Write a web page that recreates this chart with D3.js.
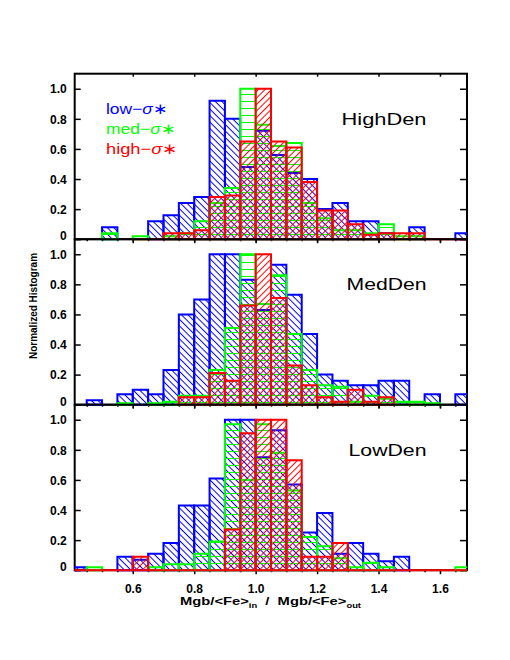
<!DOCTYPE html>
<html>
<head>
<meta charset="utf-8">
<script src="https://cdn.jsdelivr.net/npm/d3@7"></script>
<style>
  body { margin: 0; background: #fff; }
  text { font-family: "Liberation Sans", Arial, sans-serif; }
</style>
</head>
<body>
<svg id="chart"></svg>
<script>
// left edge of each 0.05 bin
const binStarts = [0.40, 0.45, 0.50, 0.55, 0.60, 0.65, 0.70, 0.75, 0.80, 0.85, 0.90, 0.95, 1.00,
                   1.05, 1.10, 1.15, 1.20, 1.25, 1.30, 1.35, 1.40, 1.45, 1.50, 1.55, 1.60, 1.65];
const binWidth = 0.05;

// null = no bar drawn, 0 = bar of zero height (a line on the axis)
const highLow = [null, null, 0.08, null, null, 0.12, 0.16, 0.24, 0.28, 0.92, 0.80, 0.48, 0.72,
                 0.56, 0.44, 0.40, 0.20, 0.24, 0.12, 0.12, 0.04, null, 0.08, null, null, 0.04];
const highMed = [null, null, 0.04, null, 0.02, null, 0.02, 0.04, 0.12, 0.24, 0.34, 1.00, 0.76,
                 0.62, 0.64, 0.24, 0.14, 0.06, 0.06, 0.04, 0.10, 0.02, 0.02, null, null, null];
const highHigh = [null, null, null, null, 0, 0, 0.04, 0.04, 0.06, 0.28, 0.29, 0.65, 1.00,
                  0.65, 0.61, 0.38, 0.19, 0.19, 0.10, 0.03, 0.04, 0.04, 0.04, 0, 0, 0];

const medLow = [null, 0.03, null, 0.07, 0.10, 0.07, 0.23, 0.60, 0.70, 1.00, 1.00, 0.83, 0.63,
                0.93, 0.73, 0.47, 0.20, 0.16, 0.13, 0.13, 0.16, 0.16, null, 0.07, null, 0.07];
const medMed = [null, null, null, 0.01, null, 0.01, 0.02, 0.06, 0.06, 0.23, 0.51, 1.00, 0.67,
                0.86, 0.47, 0.23, 0.13, 0.12, 0.02, 0.06, 0.04, 0.02, 0.02, 0.01, null, null];
const medHigh = [null, null, null, null, null, null, null, 0.05, 0.05, 0.21, 0.16, 0.66, 1.00,
                 0.71, 0.26, 0.13, 0.05, 0.02, 0.10, 0.02, 0.05, null, null, null, null, null];

const lowLow = [0.02, null, null, 0.09, 0.07, 0.11, 0.18, 0.43, 0.43, 0.61, 1.00, 1.00, 0.75,
                0.93, 0.57, 0.25, 0.38, 0.11, 0.18, 0.11, 0.06, 0.09, null, null, null, null];
const lowMed = [null, 0.02, null, null, null, 0.02, 0.04, 0.04, 0.11, 0.19, 0.97, 0.60, 0.97,
                0.78, 0.53, 0.22, 0.16, 0.08, 0.02, 0.05, 0.02, null, null, null, null, 0.02];
const lowHigh = [0, 0, 0, 0, 0.09, 0, 0, 0, 0, 0, 0.27, 0.91, 1.00,
                 1.00, 0.73, 0.09, 0.09, 0.18, 0, 0, 0, 0, 0, 0, 0, 0];

const panels = [
  { name: 'HighDen', series: [highLow, highMed, highHigh], labelWidth: 85 },
  { name: 'MedDen', series: [medLow, medMed, medHigh], labelWidth: 80 },
  { name: 'LowDen', series: [lowLow, lowMed, lowHigh], labelWidth: 78 },
];
const seriesNames = ['low', 'med', 'high'];
const seriesColors = ['#0000ff', '#00ff00', '#ff0000'];
const yTicks = [0, 0.2, 0.4, 0.6, 0.8, 1.0];
const xTicks = [0.6, 0.8, 1.0, 1.2, 1.4, 1.6];
const xMinorTicks = [0.45, 0.5, 0.55, 0.65, 0.7, 0.75, 0.85, 0.9, 0.95, 1.05, 1.1, 1.15,
                     1.25, 1.3, 1.35, 1.45, 1.5, 1.55, 1.65];

const width = 510;
const height = 660;
const left = 74.7, right = 467;
const top0 = 73.7;
const panelH = 165.5;

const svg = d3.select('#chart').attr('width', width).attr('height', height);

const x = d3.scaleLinear().domain([0.411, 1.688]).range([left, right]);

const defs = svg.append('defs');
defs.append('clipPath').attr('id', 'plot-clip')
  .append('rect')
  .attr('x', left).attr('y', top0 - 5)
  .attr('width', right - left).attr('height', panelH * 3 + 10);

// hatch patterns: blue "\", green horizontal, red "/"
const hatches = [
  { id: 'hatch-low', color: seriesColors[0], rot: -45, size: 4.6 },
  { id: 'hatch-med', color: seriesColors[1], rot: 0, size: 7 },
  { id: 'hatch-high', color: seriesColors[2], rot: 45, size: 4.6 },
];
hatches.forEach(h => {
  const p = defs.append('pattern')
    .attr('id', h.id)
    .attr('patternUnits', 'userSpaceOnUse')
    .attr('width', h.size).attr('height', h.size)
    .attr('patternTransform', `rotate(${h.rot})`);
  if (h.rot === 0) {
    p.append('line').attr('x1', 0).attr('x2', h.size)
      .attr('y1', h.size / 2).attr('y2', h.size / 2);
  } else {
    p.append('line').attr('x1', h.size / 2).attr('x2', h.size / 2)
      .attr('y1', 0).attr('y2', h.size);
  }
  p.select('line').attr('stroke', h.color).attr('stroke-width', 1);
});

const fmt = d => d === 0 ? '0' : d3.format('.1f')(d);

panels.forEach((panel, pi) => {
  const top = top0 + pi * panelH;
  const bottom = top + panelH;
  const y = d3.scaleLinear().domain([0, 1.1]).range([bottom, top]);

  const g = svg.append('g').attr('class', 'panel');

  // frame first, the bars are drawn over it
  g.append('rect')
    .attr('x', left).attr('y', top)
    .attr('width', right - left).attr('height', panelH)
    .attr('fill', 'none')
    .attr('stroke', '#000')
    .attr('stroke-width', 2);

  // axes
  const axisLeft = g.append('g')
    .attr('transform', `translate(${left},0)`)
    .call(d3.axisLeft(y).tickValues(yTicks).tickSize(-6).tickSizeOuter(0)
      .tickPadding(8).tickFormat(fmt));
  axisLeft.selectAll('text')
    .attr('dy', d => d === 0 ? '0.05em' : '0.35em');

  g.append('g')
    .attr('transform', `translate(${right},0)`)
    .call(d3.axisRight(y).tickValues(yTicks).tickSize(-7).tickSizeOuter(0).tickFormat(''));

  g.append('g')
    .attr('transform', `translate(0,${top})`)
    .call(d3.axisTop(x).tickValues(xTicks).tickSize(-3).tickSizeOuter(0).tickFormat(''));

  g.append('g')
    .attr('transform', `translate(0,${bottom})`)
    .call(d3.axisBottom(x).tickValues(xTicks).tickSize(4).tickSizeOuter(0)
      .tickPadding(10).tickFormat(pi === 2 ? d3.format('.1f') : ''));
  g.append('g')
    .attr('transform', `translate(0,${bottom})`)
    .call(d3.axisBottom(x).tickValues(xMinorTicks).tickSize(2).tickSizeOuter(0).tickFormat(''));

  g.selectAll('.domain').remove();
  g.selectAll('.tick line').attr('stroke', '#000').attr('stroke-width', 1.5);
  g.selectAll('.tick text')
    .attr('font-family', '"Liberation Sans", Arial, sans-serif')
    .attr('font-size', 12)
    .attr('font-weight', 'bold')
    .attr('fill', '#000');

  // bars
  const bars = g.append('g').attr('clip-path', 'url(#plot-clip)');
  panel.series.forEach((vals, si) => {
    const data = binStarts.map((b, i) => ({ x0: b, v: vals[i] })).filter(d => d.v !== null);
    bars.append('g')
      .attr('class', 'series-' + seriesNames[si])
      .selectAll('path')
      .data(data)
      .enter()
      .append('path')
      .attr('d', d => {
        const x0 = x(d.x0), x1 = x(d.x0 + binWidth);
        const y0 = y(0), y1 = y(d.v);
        return `M${x0},${y0}L${x0},${y1}L${x1},${y1}L${x1},${y0}Z`;
      })
      .attr('fill', `url(#hatch-${seriesNames[si]})`)
      .attr('stroke', seriesColors[si])
      .attr('stroke-width', 2)
      .attr('stroke-linejoin', 'miter');
  });

  // panel name
  g.append('text')
    .attr('x', 426.5)
    .attr('y', top + 50.8)
    .attr('text-anchor', 'end')
    .attr('font-size', 16)
    .attr('textLength', panel.labelWidth)
    .attr('lengthAdjust', 'spacingAndGlyphs')
    .text(panel.name);
});

// legend
const legendWidths = [62, 70, 72];
seriesNames.forEach((name, i) => {
  const t = svg.append('text')
    .attr('x', 106)
    .attr('y', 114.3 + i * 19.8)
    .attr('font-size', 15)
    .attr('fill', seriesColors[i])
    .attr('textLength', legendWidths[i])
    .attr('lengthAdjust', 'spacingAndGlyphs');
  t.append('tspan').text(name + '\u2212');
  t.append('tspan').attr('font-style', 'italic').text('\u03c3');
  t.append('tspan').text('\u2217');
});

// y title
svg.append('text')
  .attr('transform', 'translate(37,306) rotate(-90)')
  .attr('text-anchor', 'middle')
  .attr('font-size', 10)
  .attr('font-weight', 'bold')
  .text('Normalized Histogram');

// x title
const xt = svg.append('text')
  .attr('x', 180)
  .attr('y', 605)
  .attr('font-size', 11)
  .attr('font-weight', 'bold')
  .attr('textLength', 181)
  .attr('lengthAdjust', 'spacingAndGlyphs');
xt.append('tspan').text('Mgb/<Fe>');
xt.append('tspan').attr('font-size', 7).attr('dy', 3).text('in');
xt.append('tspan').attr('dy', -3).text('\u00a0\u00a0/\u00a0\u00a0Mgb/<Fe>');
xt.append('tspan').attr('font-size', 7).attr('dy', 3).text('out');
</script>
</body>
</html>
